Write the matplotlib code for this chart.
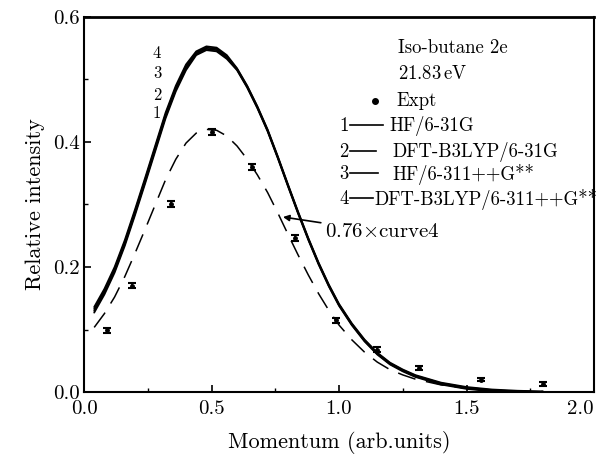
import matplotlib
matplotlib.use("Agg")
import matplotlib.pyplot as plt
from matplotlib.ticker import MultipleLocator

plt.rcParams['font.family'] = ['cmr10', 'DejaVu Serif']
plt.rcParams['mathtext.fontset'] = 'cm'
plt.rcParams['axes.formatter.use_mathtext'] = True

# Experimental data
exp_x = [0.09, 0.187, 0.341, 0.50, 0.66, 0.827, 0.988, 1.15, 1.314, 1.557, 1.80]
exp_y = [0.099, 0.170, 0.301, 0.4165, 0.360, 0.246, 0.115, 0.068, 0.038, 0.020, 0.013]
exp_err = [0.004, 0.004, 0.005, 0.005, 0.005, 0.005, 0.004, 0.004, 0.003, 0.003, 0.003]

# Theory curves
th_x = [0.04, 0.08, 0.12, 0.16, 0.20, 0.24, 0.28, 0.32, 0.36, 0.40, 0.44, 0.48, 0.52,
        0.56, 0.60, 0.64, 0.68, 0.72, 0.76, 0.80, 0.84, 0.88, 0.92, 0.96, 1.00, 1.05,
        1.10, 1.15, 1.20, 1.25, 1.30, 1.40, 1.50, 1.60, 1.70, 1.80]
curve4 = [0.136, 0.165, 0.200, 0.243, 0.292, 0.343, 0.395, 0.447, 0.490, 0.524, 0.545, 0.553, 0.551,
          0.539, 0.518, 0.490, 0.457, 0.420, 0.377, 0.332, 0.288, 0.246, 0.207, 0.172, 0.141, 0.110,
          0.084, 0.063, 0.047, 0.036, 0.027, 0.015, 0.008, 0.004, 0.002, 0.001]
curve3 = [0.133, 0.162, 0.197, 0.240, 0.289, 0.340, 0.392, 0.444, 0.487, 0.521, 0.543, 0.551, 0.549,
          0.537, 0.517, 0.489, 0.456, 0.419, 0.376, 0.331, 0.287, 0.245, 0.206, 0.171, 0.140, 0.109,
          0.083, 0.062, 0.046, 0.035, 0.026, 0.014, 0.007, 0.003, 0.001, 0.000]
curve2 = [0.130, 0.159, 0.194, 0.237, 0.286, 0.337, 0.389, 0.441, 0.484, 0.518, 0.541, 0.549, 0.547,
          0.535, 0.516, 0.488, 0.455, 0.418, 0.375, 0.330, 0.286, 0.244, 0.205, 0.170, 0.139, 0.108,
          0.082, 0.061, 0.045, 0.034, 0.025, 0.013, 0.006, 0.002, 0.000, 0.000]
curve1 = [0.127, 0.156, 0.191, 0.234, 0.283, 0.334, 0.386, 0.438, 0.481, 0.515, 0.539, 0.547, 0.545,
          0.533, 0.515, 0.487, 0.454, 0.417, 0.374, 0.329, 0.285, 0.243, 0.204, 0.169, 0.138, 0.107,
          0.081, 0.060, 0.044, 0.033, 0.024, 0.012, 0.005, 0.001, 0.000, 0.000]
scale = 0.76
scaled4 = [scale * v for v in curve4]

x_ticks = [0.0, 0.5, 1.0, 1.5, 2.0]
x_tick_labels = ["0.0", "0.5", "1.0", "1.5", "2.0"]
y_ticks = [0.0, 0.2, 0.4, 0.6]
y_tick_labels = ["0.0", "0.2", "0.4", "0.6"]

legend_labels = ["HF/6-31G", "DFT-B3LYP/6-31G", "HF/6-311++G**", "DFT-B3LYP/6-311++G**"]

W, H = 605, 454
L, R, T, B = 84, 594, 17, 392
fig = plt.figure(figsize=(W / 100, H / 100), dpi=100)
ax = fig.add_axes([L / W, (H - B) / H, (R - L) / W, (B - T) / H])

def fx(px):
    return (px - L) / (R - L)

def fy(py):
    return (B - py) / (B - T)

for c in (curve1, curve2, curve3, curve4):
    ax.plot(th_x, c, color='black', lw=1.3, solid_capstyle='round')
ax.plot(th_x, scaled4, color='black', lw=1.1, dashes=(12, 7))

ax.errorbar(exp_x, exp_y, yerr=exp_err, fmt='o', ms=2.5, color='black',
            ecolor='black', elinewidth=1.2, capsize=3, capthick=1.5)

ax.set_xlim(0, 2.0)
ax.set_ylim(0, 0.6)
ax.set_xticks(x_ticks, x_tick_labels)
ax.set_yticks(y_ticks, y_tick_labels)
ax.xaxis.set_minor_locator(MultipleLocator(0.25))
ax.yaxis.set_minor_locator(MultipleLocator(0.1))
ax.tick_params(which='both', direction='in', top=False, right=False, labelsize=15)
ax.tick_params(which='major', length=5, width=1.2)
ax.tick_params(which='minor', length=3, width=1.0)
ax.tick_params(axis='x', pad=6)
ax.tick_params(axis='y', pad=3)
for side, sp in ax.spines.items():
    sp.set_linewidth(1.5)
ax.spines['top'].set_linewidth(2.0)

for tick in ax.xaxis.get_major_ticks():
    if abs(tick.get_loc() - 2.0) < 1e-9:
        tick.label1.set_horizontalalignment('right')
        tick.label1.set_x(2.0)

ax.set_xlabel("Momentum (arb.units)", fontsize=16, labelpad=9)
ax.set_ylabel("Relative intensity", fontsize=16, labelpad=6)

# curve number labels
for num, py in zip(["4", "3", "2", "1"], [53, 73, 95, 113]):
    ax.text(fx(157), fy(py), num, transform=ax.transAxes, fontsize=12,
            ha='center', va='center')

# legend block
fs = 13.5
ax.text(fx(398), fy(48), "Iso-butane 2e", transform=ax.transAxes, fontsize=fs, va='center')
ax.text(fx(398), fy(74), "21.83$\\,$eV", transform=ax.transAxes, fontsize=fs, va='center')
ax.plot([fx(375)], [fy(101)], 'o', color='black', ms=4, transform=ax.transAxes)
ax.text(fx(396), fy(101), "Expt", transform=ax.transAxes, fontsize=fs, va='center')
rows = [(126, 389), (152, 392), (174, 392), (199, 374)]
dash_ends = [(350, 383), (350, 376), (350, 378), (350, 373)]
for i, ((py, tx), (d0, d1), lab) in enumerate(zip(rows, dash_ends, legend_labels)):
    ax.text(fx(344), fy(py), str(i + 1), transform=ax.transAxes, fontsize=fs,
            va='center', ha='center')
    ax.plot([fx(d0), fx(d1)], [fy(py - 1), fy(py - 1)], color='black', lw=1.2,
            transform=ax.transAxes)
    ax.text(fx(tx), fy(py), lab, transform=ax.transAxes, fontsize=fs, va='center')

ax.annotate("0.76$\\times$curve4", xy=(fx(283), fy(217)), xytext=(fx(325), fy(232)),
            xycoords='axes fraction', textcoords='axes fraction', fontsize=15,
            va='center', ha='left',
            arrowprops=dict(arrowstyle='-|>', color='black', lw=1.2,
                            mutation_scale=9, shrinkA=1, shrinkB=0))

fig.savefig("out.png", dpi=100)
